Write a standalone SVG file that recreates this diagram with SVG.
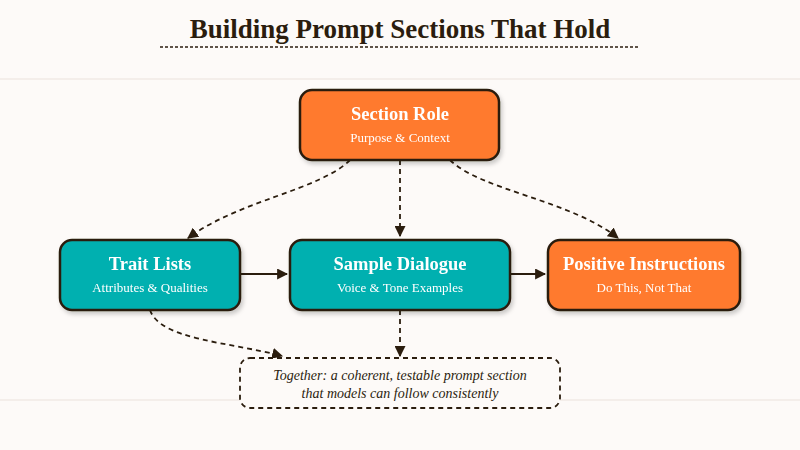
<svg xmlns="http://www.w3.org/2000/svg" width="800" height="450" viewBox="0 0 800 450">
<defs>
<style>
.n rect{stroke:#2b1d0e;stroke-width:2.5}
.o{fill:#ff7a2e}.t{fill:#00b0b0}
.h{font-family:"Liberation Serif",serif;font-weight:bold;font-size:18.5px;fill:#fff;text-anchor:middle}
.s{font-family:"Liberation Serif",serif;font-size:13px;fill:#fff;text-anchor:middle}
.c path{fill:none;stroke:#2b1d0e;stroke-width:1.8}
.d{stroke-dasharray:5 4}
</style>
<marker id="a" viewBox="0 0 10 10" refX="9" refY="5" markerWidth="11" markerHeight="11" markerUnits="userSpaceOnUse" orient="auto"><path d="M0,0L10,5L0,10z" fill="#2b1d0e"/></marker>
<filter id="sh" x="-10%" y="-10%" width="130%" height="140%"><feDropShadow dx="2" dy="3" stdDeviation="2" flood-color="#000" flood-opacity="0.2"/></filter>
</defs>
<rect width="800" height="450" fill="#fdfaf8"/>
<line x1="0" y1="79" x2="800" y2="79" stroke="#f4eeea" stroke-width="2"/>
<line x1="0" y1="400" x2="800" y2="400" stroke="#f4eeea" stroke-width="2"/>
<text x="400" y="38" text-anchor="middle" font-family="Liberation Serif,serif" font-weight="bold" font-size="27" fill="#2b1d0e">Building Prompt Sections That Hold</text>
<line x1="160" y1="47" x2="640" y2="47" stroke="#2b1d0e" stroke-width="1.5" stroke-dasharray="3 2"/>
<g class="c">
<path class="d" d="M350,160 C320,190 240,200 188,238" marker-end="url(#a)"/>
<path class="d" d="M400,160 V236" marker-end="url(#a)"/>
<path class="d" d="M450,160 C480,190 570,200 618,238" marker-end="url(#a)"/>
<path d="M240,274 H287" marker-end="url(#a)"/>
<path d="M510,274 H545" marker-end="url(#a)"/>
<path class="d" d="M150,310 C160,340 230,342 282,356" marker-end="url(#a)"/>
<path class="d" d="M400,310 V356" marker-end="url(#a)"/>
</g>
<g id="role" class="n" filter="url(#sh)"><rect class="o" x="300" y="90" width="199" height="70" rx="12"/><text class="h" x="400" y="120">Section Role</text><text class="s" x="400" y="142">Purpose &amp; Context</text></g>
<g id="trait" class="n" filter="url(#sh)"><rect class="t" x="60" y="240" width="180" height="70" rx="12"/><text class="h" x="150" y="270">Trait Lists</text><text class="s" x="150" y="292">Attributes &amp; Qualities</text></g>
<g id="sample" class="n" filter="url(#sh)"><rect class="t" x="290" y="240" width="220" height="70" rx="12"/><text class="h" x="400" y="270">Sample Dialogue</text><text class="s" x="400" y="292">Voice &amp; Tone Examples</text></g>
<g id="positive" class="n" filter="url(#sh)"><rect class="o" x="548" y="240" width="192" height="70" rx="12"/><text class="h" x="644" y="270" font-size="17.5">Positive Instructions</text><text class="s" x="644" y="292">Do This, Not That</text></g>
<g id="together"><rect x="240" y="358" width="320" height="50" rx="10" fill="#fdfaf8" stroke="#2b1d0e" stroke-width="1.8" stroke-dasharray="5 4"/>
<text x="400" y="380" text-anchor="middle" font-family="Liberation Serif,serif" font-style="italic" font-size="14" fill="#2b1d0e">Together: a coherent, testable prompt section</text>
<text x="400" y="398" text-anchor="middle" font-family="Liberation Serif,serif" font-style="italic" font-size="14" fill="#2b1d0e">that models can follow consistently</text></g>
</svg>
